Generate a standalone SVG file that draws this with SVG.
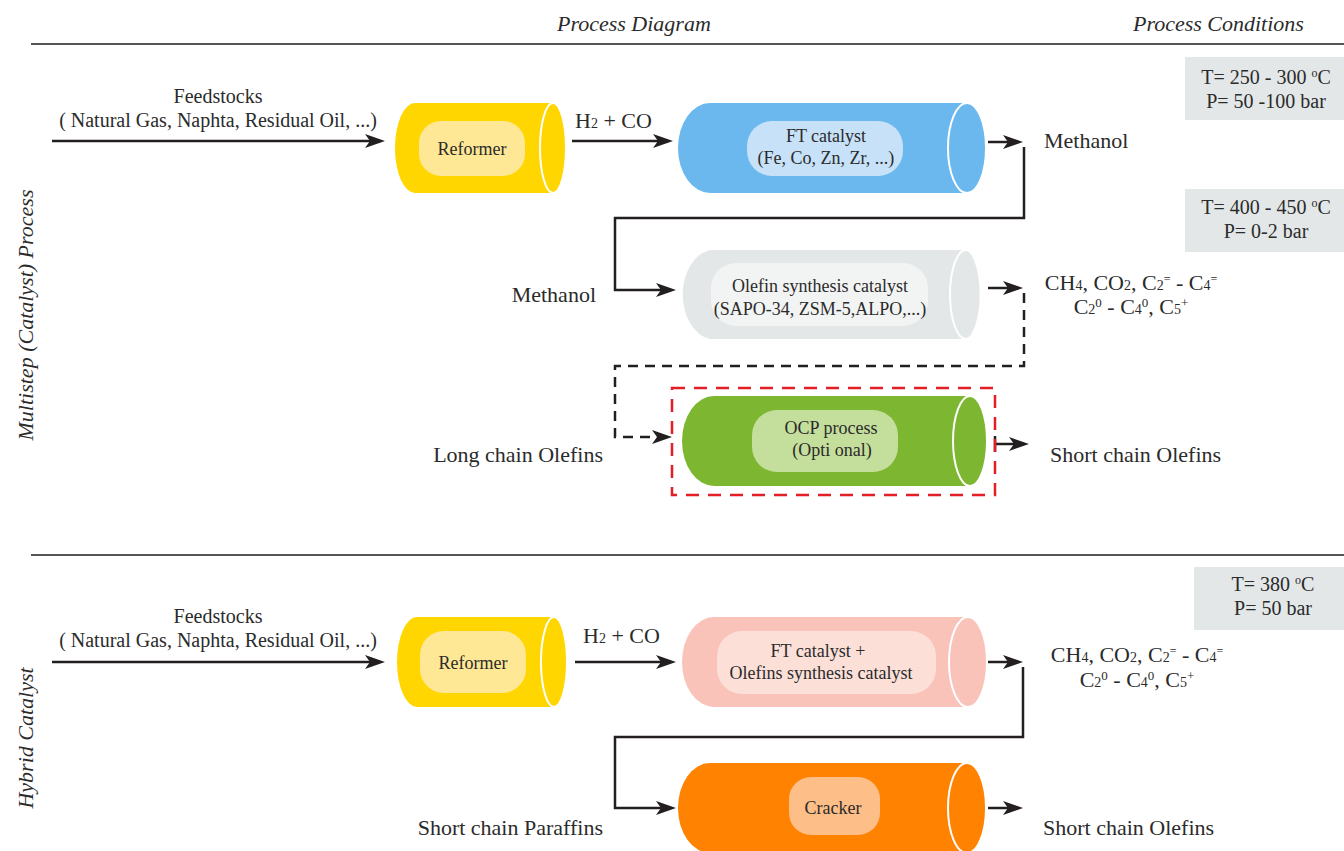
<svg xmlns="http://www.w3.org/2000/svg" width="1344" height="851" viewBox="0 0 1344 851">
<defs>
<marker id="arr" markerUnits="userSpaceOnUse" viewBox="0 0 20 14" markerWidth="20" markerHeight="14" refX="15" refY="7" orient="auto">
<path d="M0,0 L20,7 L0,14 L5,7 Z" fill="#231F20"/>
</marker>
<style>
.t{font-family:"Liberation Serif","Times New Roman",serif;fill:#2b2b2b;}
.lg{font-size:22px;}
.md{font-size:20px;}
.sm{font-size:18px;}
.it{font-style:italic;font-size:22px;}
.c{text-anchor:middle;}
.e{text-anchor:end;}
.ln{fill:none;stroke:#231F20;stroke-width:2.5;}
.dash{stroke-dasharray:10 7;}
.sep{stroke:#555;stroke-width:2;}
.cap{fill:none;stroke:#fff;stroke-width:2;}
.cond{fill:#E3E7E8;}
</style>
</defs>
<rect width="1344" height="851" fill="#fff"/>

<!-- headers and separators -->
<text class="t it" x="557" y="31">Process Diagram</text>
<text class="t it" x="1133" y="31">Process Conditions</text>
<line class="sep" x1="31" y1="44" x2="1344" y2="44"/>
<line class="sep" x1="31" y1="555" x2="1344" y2="555"/>
<text class="t it c" transform="translate(33,315) rotate(-90)">Multistep (Catalyst) Process</text>
<text class="t it c" transform="translate(33,738) rotate(-90)">Hybrid Catalyst</text>

<!-- condition boxes -->
<g id="cond1">
<rect class="cond" x="1185" y="57" width="159" height="63"/>
<text class="t md c" x="1266" y="84">T= 250 - 300 <tspan font-size="12" baseline-shift="7">o</tspan>C</text>
<text class="t md c" x="1266" y="108">P= 50 -100 bar</text>
</g>
<g id="cond2">
<rect class="cond" x="1185" y="189" width="159" height="63"/>
<text class="t md c" x="1266" y="214">T= 400 - 450 <tspan font-size="12" baseline-shift="7">o</tspan>C</text>
<text class="t md c" x="1266" y="238">P= 0-2 bar</text>
</g>
<g id="cond3">
<rect class="cond" x="1194" y="567" width="150" height="63"/>
<text class="t md c" x="1273" y="591">T= 380 <tspan font-size="12" baseline-shift="7">o</tspan>C</text>
<text class="t md c" x="1273" y="615">P= 50 bar</text>
</g>

<!-- connectors -->
<g id="connectors">
<line class="ln" x1="52" y1="141" x2="380" y2="141" marker-end="url(#arr)"/>
<line class="ln" x1="572" y1="141" x2="668" y2="141" marker-end="url(#arr)"/>
<line class="ln" x1="988" y1="142" x2="1018" y2="142" marker-end="url(#arr)"/>
<polyline class="ln" points="1024,147 1024,218 615,218 615,290 671,290" marker-end="url(#arr)"/>
<line class="ln" x1="988" y1="288" x2="1018" y2="288" marker-end="url(#arr)"/>
<polyline class="ln dash" points="1024,293 1024,366 615,366 615,437 667,437" marker-end="url(#arr)"/>
<line class="ln" x1="995" y1="444" x2="1024" y2="444" marker-end="url(#arr)"/>
<line class="ln" x1="995" y1="436" x2="995" y2="452"/>
<line class="ln" x1="52" y1="662" x2="380" y2="662" marker-end="url(#arr)"/>
<line class="ln" x1="575" y1="662" x2="671" y2="662" marker-end="url(#arr)"/>
<line class="ln" x1="988" y1="662" x2="1018" y2="662" marker-end="url(#arr)"/>
<polyline class="ln" points="1023,667 1023,737 615,737 615,808 671,808" marker-end="url(#arr)"/>
<line class="ln" x1="988" y1="808" x2="1018" y2="808" marker-end="url(#arr)"/>
</g>

<!-- flow labels -->
<text class="t md c" x="218" y="103">Feedstocks</text>
<text class="t md c" x="218" y="127">( Natural Gas, Naphta, Residual Oil, ...)</text>
<text class="t lg" x="575" y="128">H<tspan font-size="14">2</tspan> + CO</text>
<text class="t lg" x="1044" y="148">Methanol</text>
<text class="t lg e" x="596" y="302">Methanol</text>
<text class="t lg c" x="1131" y="290">CH<tspan font-size="14">4</tspan>, CO<tspan font-size="14">2</tspan>, C<tspan font-size="14">2</tspan><tspan font-size="12" baseline-shift="7">=</tspan> - C<tspan font-size="14">4</tspan><tspan font-size="12" baseline-shift="7">=</tspan></text>
<text class="t lg c" x="1131" y="314">C<tspan font-size="14">2</tspan><tspan font-size="13" baseline-shift="7">0</tspan> - C<tspan font-size="14">4</tspan><tspan font-size="13" baseline-shift="7">0</tspan>, C<tspan font-size="14">5</tspan><tspan font-size="13" baseline-shift="7">+</tspan></text>
<text class="t lg e" x="603" y="462">Long chain Olefins</text>
<text class="t lg" x="1050" y="462">Short chain Olefins</text>

<text class="t md c" x="218" y="623">Feedstocks</text>
<text class="t md c" x="218" y="647">( Natural Gas, Naphta, Residual Oil, ...)</text>
<text class="t lg" x="583" y="643">H<tspan font-size="14">2</tspan> + CO</text>
<text class="t lg c" x="1137" y="662">CH<tspan font-size="14">4</tspan>, CO<tspan font-size="14">2</tspan>, C<tspan font-size="14">2</tspan><tspan font-size="12" baseline-shift="7">=</tspan> - C<tspan font-size="14">4</tspan><tspan font-size="12" baseline-shift="7">=</tspan></text>
<text class="t lg c" x="1137" y="687">C<tspan font-size="14">2</tspan><tspan font-size="13" baseline-shift="7">0</tspan> - C<tspan font-size="14">4</tspan><tspan font-size="13" baseline-shift="7">0</tspan>, C<tspan font-size="14">5</tspan><tspan font-size="13" baseline-shift="7">+</tspan></text>
<text class="t lg e" x="603" y="835">Short chain Paraffins</text>
<text class="t lg" x="1043" y="835">Short chain Olefins</text>

<!-- nodes -->
<g id="reformer1">
<path d="M415,103 L553,103 A13,45 0 0 1 553,193 L415,193 A20,45 0 0 1 415,103 Z" fill="#FFD600"/>
<ellipse class="cap" cx="553" cy="148" rx="13" ry="45" fill="#FFD600"/>
<rect x="419" y="121" width="106" height="55" rx="22" fill="#FFE895"/>
<text class="t sm c" x="472" y="155">Reformer</text>
</g>
<g id="ft1">
<path d="M710,103 L967,103 A19,45 0 0 1 967,193 L710,193 A32,45 0 0 1 710,103 Z" fill="#6BB8EE"/>
<ellipse class="cap" cx="967" cy="148" rx="19" ry="45" fill="#6BB8EE"/>
<rect x="747" y="121" width="156" height="55" rx="25" fill="#C6E1F8"/>
<text class="t sm c" x="826" y="142">FT catalyst</text>
<text class="t sm c" x="826" y="164">(Fe, Co, Zn, Zr, ...)</text>
</g>
<g id="olefin1">
<path d="M710,250 L966,250 A16,45 0 0 1 966,339 L710,339 A32,45 0 0 1 710,250 Z" fill="#E3E7E8"/>
<ellipse class="cap" cx="966" cy="294.5" rx="16" ry="44.5" fill="#E3E7E8"/>
<rect x="711" y="263" width="217" height="63" rx="25" fill="#F2F3F3"/>
<text class="t sm c" x="820" y="292">Olefin synthesis catalyst</text>
<text class="t sm c" x="820" y="315">(SAPO-34, ZSM-5,ALPO,...)</text>
</g>
<g id="ocp">
<path d="M714,396 L970,396 A17,45 0 0 1 970,486 L714,486 A32,45 0 0 1 714,396 Z" fill="#7DB731"/>
<ellipse class="cap" cx="970" cy="441" rx="17" ry="45" fill="#7DB731"/>
<rect x="752" y="410" width="146" height="62" rx="25" fill="#C4DE9C"/>
<text class="t sm c" x="831" y="434">OCP process</text>
<text class="t sm c" x="832" y="456">(Opti onal)</text>
<rect x="672" y="388" width="323" height="107" fill="none" stroke="#E31E24" stroke-width="2.5" stroke-dasharray="13 9"/>
</g>
<g id="reformer2">
<path d="M417,617 L554,617 A13,45 0 0 1 554,707 L417,707 A20,45 0 0 1 417,617 Z" fill="#FFD600"/>
<ellipse class="cap" cx="554" cy="662" rx="13" ry="45" fill="#FFD600"/>
<rect x="420" y="631" width="106" height="62" rx="24" fill="#FFE895"/>
<text class="t sm c" x="473" y="669">Reformer</text>
</g>
<g id="hybrid">
<path d="M714,617 L968,617 A19,45 0 0 1 968,707 L714,707 A32,45 0 0 1 714,617 Z" fill="#F9C3B9"/>
<ellipse class="cap" cx="968" cy="662" rx="19" ry="45" fill="#F9C3B9"/>
<rect x="717" y="631" width="219" height="63" rx="25" fill="#FCE0D8"/>
<text class="t sm c" x="818" y="657">FT catalyst +</text>
<text class="t sm c" x="821" y="679">Olefins synthesis catalyst</text>
</g>
<g id="cracker">
<path d="M710,763 L967,763 A19,45 0 0 1 967,853 L710,853 A32,45 0 0 1 710,763 Z" fill="#FF8200"/>
<ellipse class="cap" cx="967" cy="808" rx="19" ry="45" fill="#FF8200"/>
<rect x="789" y="777" width="91" height="58" rx="22" fill="#FDBE88"/>
<text class="t sm c" x="833" y="814">Cracker</text>
</g>
</svg>
